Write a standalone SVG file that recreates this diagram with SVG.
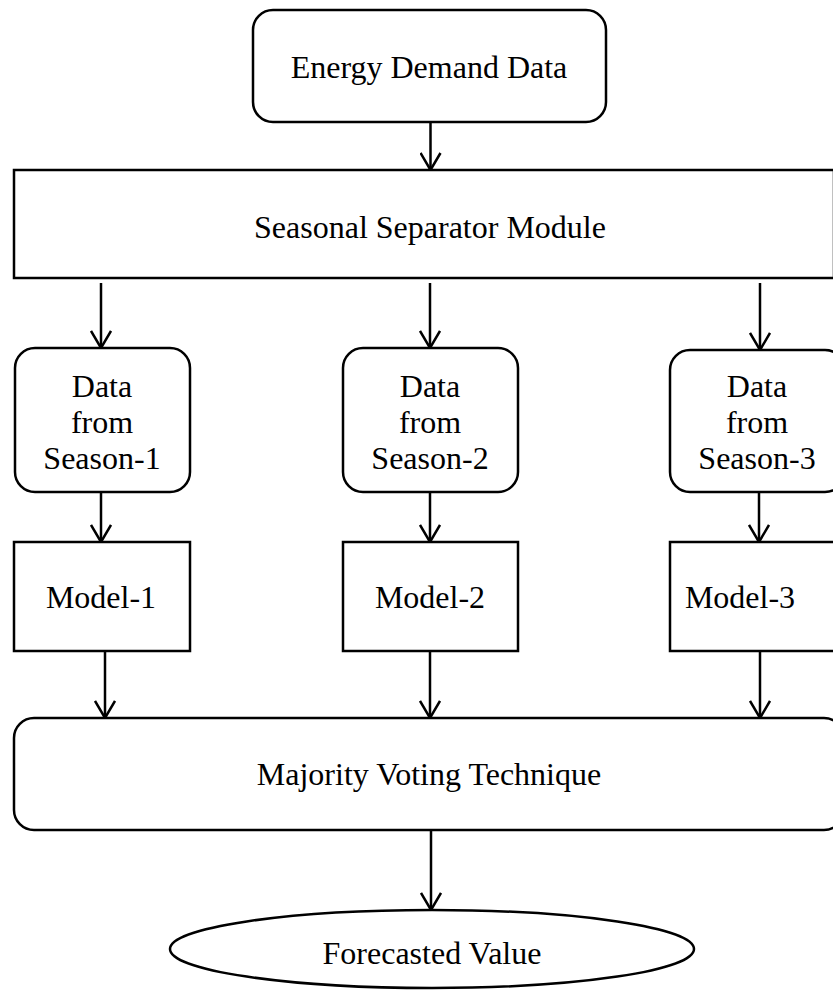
<svg xmlns="http://www.w3.org/2000/svg" width="833" height="997" viewBox="0 0 833 997">
<defs>
<marker id="arr" markerWidth="20" markerHeight="22" refX="18" refY="11" orient="auto" markerUnits="userSpaceOnUse" viewBox="0 0 20 22">
<path d="M1,1 L18,11 L1,21" fill="none" stroke="#000" stroke-width="2.5"/>
</marker>
</defs>
<style>
.box{fill:#fff;stroke:#000;stroke-width:2.5}
.t{font-family:"Liberation Serif","Times New Roman",serif;font-size:32px;fill:#000;text-anchor:middle}
.c{stroke:#000;stroke-width:2.5;fill:none;marker-end:url(#arr)}
</style>
<rect width="833" height="997" fill="#fff"/>
<g id="connectors">
<line class="c" x1="430.5" y1="123" x2="430.5" y2="170"/>
<line class="c" x1="101" y1="283" x2="101" y2="348"/>
<line class="c" x1="430" y1="283" x2="430" y2="348"/>
<line class="c" x1="760" y1="283" x2="760" y2="350"/>
<line class="c" x1="101" y1="492" x2="101" y2="542"/>
<line class="c" x1="430" y1="492" x2="430" y2="542"/>
<line class="c" x1="759" y1="492" x2="759" y2="542"/>
<line class="c" x1="105" y1="651" x2="105" y2="718"/>
<line class="c" x1="430" y1="651" x2="430" y2="718"/>
<line class="c" x1="760" y1="651" x2="760" y2="718"/>
<line class="c" x1="431" y1="830" x2="431" y2="910"/>
</g>
<g id="energy"><rect class="box" x="253" y="10" width="353" height="112" rx="20"/><text class="t" x="429" y="78">Energy Demand Data</text></g>
<g id="separator"><rect class="box" x="14" y="170" width="820" height="108"/><text class="t" x="430" y="238">Seasonal Separator Module</text></g>
<g id="season1"><rect class="box" x="15" y="348" width="175" height="144" rx="20"/><text class="t" x="102" y="397">Data</text><text class="t" x="102" y="433">from</text><text class="t" x="102" y="469">Season-1</text></g>
<g id="season2"><rect class="box" x="343" y="348" width="175" height="144" rx="20"/><text class="t" x="430" y="397">Data</text><text class="t" x="430" y="433">from</text><text class="t" x="430" y="469">Season-2</text></g>
<g id="season3"><rect class="box" x="670" y="350" width="175" height="142" rx="20"/><text class="t" x="757" y="397">Data</text><text class="t" x="757" y="433">from</text><text class="t" x="757" y="469">Season-3</text></g>
<g id="model1"><rect class="box" x="14" y="542" width="176" height="109"/><text class="t" x="101" y="608">Model-1</text></g>
<g id="model2"><rect class="box" x="343" y="542" width="175" height="109"/><text class="t" x="430" y="608">Model-2</text></g>
<g id="model3"><rect class="box" x="670" y="542" width="175" height="109"/><text class="t" x="740" y="608">Model-3</text></g>
<g id="majority"><rect class="box" x="14" y="718" width="830" height="112" rx="20"/><text class="t" x="429" y="785">Majority Voting Technique</text></g>
<g id="forecast"><ellipse class="box" cx="432" cy="949" rx="262" ry="39"/><text class="t" x="432" y="964">Forecasted Value</text></g>
</svg>
